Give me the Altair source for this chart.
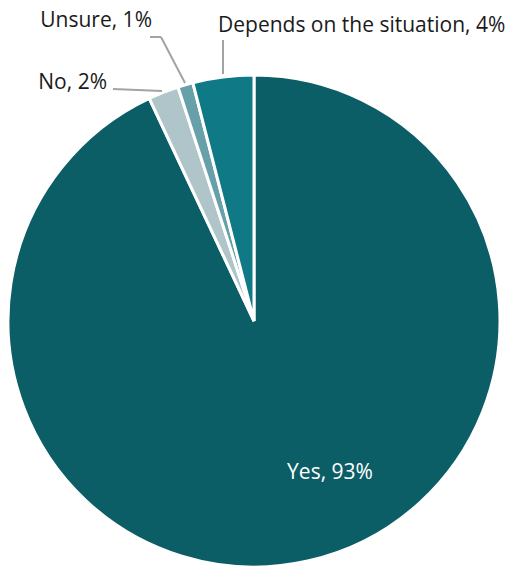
import altair as alt
import pandas as pd

# Data
categories = ["Yes", "No", "Unsure", "Depends on the situation"]
values = [93, 2, 1, 4]
colors = ["#0b5d66", "#afc5c9", "#67a0a8", "#0f7986"]

# Label layout (chart coordinates)
label_text = ["Yes, 93%", "No, 2%", "Unsure, 1%", "Depends on the situation, 4%"]
label_x = [322, 99, 144, 210]
label_y = [461, 71, 9, 14]
label_align = ["center", "right", "right", "left"]
label_color = ["white", "#1a1a1a", "#1a1a1a", "#1a1a1a"]

# Leader line segments
seg_x = [105, 142, 153, 215]
seg_y = [71, 19, 19, 22]
seg_x2 = [154, 153, 177, 215]
seg_y2 = [73, 19, 65, 56]

df = pd.DataFrame({"cat": categories, "val": values, "order": list(range(len(categories)))})

CX, CY, R = 246, 303, 246

pie = alt.Chart(df).mark_arc(radius=R, stroke="white", strokeWidth=3).encode(
    theta=alt.Theta("val:Q", stack=True),
    order=alt.Order("order:Q"),
    color=alt.Color("cat:N", scale=alt.Scale(domain=categories, range=colors), legend=None),
    x=alt.value(CX),
    y=alt.value(CY),
)

layers = [pie]
for i in range(len(seg_x)):
    layers.append(
        alt.Chart(pd.DataFrame({"a": [0]})).mark_rule(color="#a3a3a3", strokeWidth=2).encode(
            x=alt.value(seg_x[i]), y=alt.value(seg_y[i]),
            x2=alt.value(seg_x2[i]), y2=alt.value(seg_y2[i]),
        )
    )
for i in range(len(label_text)):
    layers.append(
        alt.Chart(pd.DataFrame({"t": [label_text[i]]})).mark_text(
            font="Open Sans", fontSize=21, align=label_align[i], baseline="alphabetic",
            color=label_color[i],
        ).encode(text="t:N", x=alt.value(label_x[i]), y=alt.value(label_y[i]))
    )

chart = alt.layer(*layers).properties(
    width=499, height=549, autosize=alt.AutoSizeParams(type="none"),
    padding={"left": 0, "top": 10, "right": 0, "bottom": 0},
).configure_view(stroke=None)

chart.save("out.html", embed_options={"renderer": "svg", "actions": False})
